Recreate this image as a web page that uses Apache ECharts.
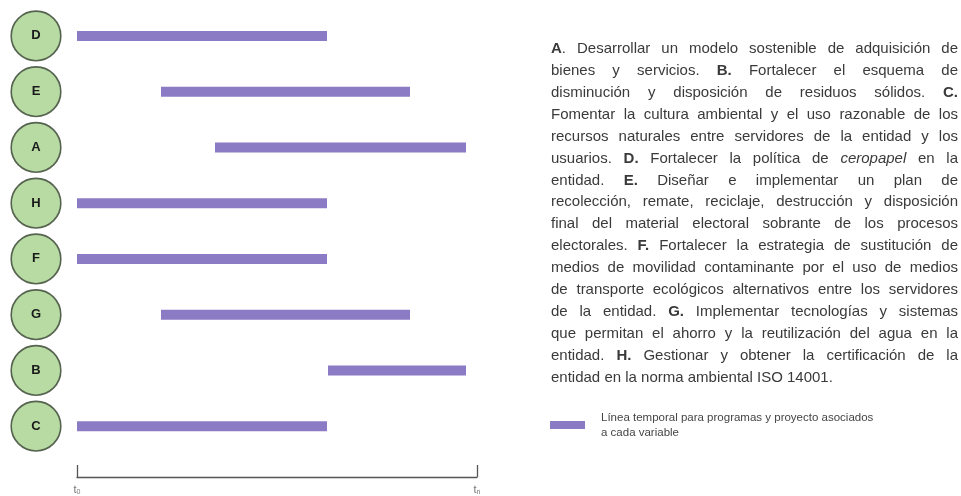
<!DOCTYPE html>
<html><head><meta charset="utf-8">
<script src="https://cdn.jsdelivr.net/npm/echarts@6/dist/echarts.min.js"></script>
<style>html,body{margin:0;padding:0;background:#fff}#c{width:961px;height:496px}</style>
</head><body><div id="c"></div>
<script>
// ---- data ----
const categories = ['D', 'E', 'A', 'H', 'F', 'G', 'B', 'C'];
const startValues = [0, 21, 34.5, 0, 0, 21, 62.75, 0];
const endValues = [62.5, 83.25, 97.25, 62.5, 62.5, 83.25, 97.25, 62.5];
const timeTickSubscripts = ['0', 'n'];
const legendLabel = 'Línea temporal para programas y proyecto asociados\na cada variable';
const descriptionLines = [
  '**A**. Desarrollar un modelo sostenible de adquisición de',
  'bienes y servicios. **B.** Fortalecer el esquema de',
  'disminución y disposición de residuos sólidos. **C.**',
  'Fomentar la cultura ambiental y el uso razonable de los',
  'recursos naturales entre servidores de la entidad y los',
  'usuarios. **D.** Fortalecer la política de _ceropapel_ en la',
  'entidad. **E.** Diseñar e implementar un plan de',
  'recolección, remate, reciclaje, destrucción y disposición',
  'final del material electoral sobrante de los procesos',
  'electorales. **F.** Fortalecer la estrategia de sustitución de',
  'medios de movilidad contaminante por el uso de medios',
  'de transporte ecológicos alternativos entre los servidores',
  'de la entidad. **G.** Implementar tecnologías y sistemas',
  'que permitan el ahorro y la reutilización del agua en la',
  'entidad. **H.** Gestionar y obtener la certificación de la',
  'entidad en la norma ambiental ISO 14001.'
];

// ---- styles ----
const FONT = '"Liberation Sans", Arial, sans-serif';
const BAR_COLOR = '#8b7bc4';
const TEXT_COLOR = '#3a3a3a';

const durations = endValues.map((e, i) => e - startValues[i]);

// justified paragraph layout
const TX0 = 551, TX1 = 958, TY0 = 49, LH = 21.9;
const cvs = document.createElement('canvas').getContext('2d');
let FS = 10;
function segFont(s, fs) { return (s.italic ? 'italic ' : '') + (s.bold ? 'bold ' : '') + fs + 'px ' + FONT; }
function measure(s, fs) { cvs.font = segFont(s, fs); return cvs.measureText(s.t).width; }
function parseWord(w) {
  const segs = []; const re = /\*\*(.+?)\*\*|_(.+?)_|([^*_]+)/g; let m;
  while ((m = re.exec(w))) {
    if (m[1]) segs.push({ t: m[1], bold: true });
    else if (m[2]) segs.push({ t: m[2], italic: true });
    else segs.push({ t: m[3] });
  }
  return segs;
}
const parsed = descriptionLines.map(l => l.split(' ').map(parseWord));
// choose font size so the densest line fits with normal spacing
(function () {
  let maxW = 0;
  parsed.forEach(words => {
    cvs.font = '10px ' + FONT;
    const sp = cvs.measureText(' ').width;
    const w = words.reduce((a, ws) => a + ws.reduce((b, s) => b + measure(s, 10), 0), 0) + sp * (words.length - 1);
    maxW = Math.max(maxW, w);
  });
  FS = Math.min(15, 10 * (TX1 - TX0) / maxW * 0.995);
})();
const graphics = [];
parsed.forEach((words, li) => {
  const widths = words.map(ws => ws.reduce((a, s) => a + measure(s, FS), 0));
  const total = widths.reduce((a, b) => a + b, 0);
  const last = li === parsed.length - 1;
  cvs.font = FS + 'px ' + FONT;
  const spaceW = cvs.measureText(' ').width;
  const gap = last ? spaceW : (TX1 - TX0 - total) / (words.length - 1);
  let x = TX0;
  const y = TY0 + li * LH;
  words.forEach((ws, wi) => {
    let sx = x;
    ws.forEach(s => {
      graphics.push({
        type: 'text', x: sx, y: y, silent: true,
        style: {
          text: s.t, fill: TEXT_COLOR, fontSize: FS, fontFamily: FONT,
          fontWeight: s.bold ? 'bold' : 'normal', fontStyle: s.italic ? 'italic' : 'normal',
          align: 'left', verticalAlign: 'middle'
        }
      });
      sx += measure(s, FS);
    });
    x += widths[wi] + gap;
  });
});

const chart = echarts.init(document.getElementById('c'), null, { renderer: 'canvas' });
chart.setOption({
  animation: false,
  backgroundColor: '#ffffff',
  grid: { left: 77, right: 484, top: 8, bottom: 42 },
  legend: {
    left: 545, top: 405,
    itemWidth: 35, itemHeight: 8,
    data: [{ name: legendLabel, icon: 'rect' }],
    selectedMode: false,
    textStyle: { fontSize: 11.5, color: '#444', fontFamily: FONT, lineHeight: 15, padding: [0, 0, 0, 11] }
  },
  xAxis: {
    type: 'value', min: 0, max: 100, interval: 100,
    offset: 23,
    axisLine: { show: true, lineStyle: { color: '#555', width: 1.3 } },
    axisTick: { show: true, inside: true, length: 12, lineStyle: { color: '#555', width: 1.3 } },
    splitLine: { show: false },
    axisLabel: {
      show: true, margin: 6, showMinLabel: true, showMaxLabel: true,
      formatter: v => '{t|t}{s|' + (v === 0 ? timeTickSubscripts[0] : timeTickSubscripts[1]) + '}',
      rich: {
        t: { fontSize: 11, color: '#777', fontFamily: FONT },
        s: { fontSize: 7, color: '#777', fontFamily: FONT, padding: [6, 0, 0, 0] }
      }
    }
  },
  yAxis: {
    type: 'category', inverse: true, data: categories,
    axisLine: { show: false }, axisTick: { show: false }, splitLine: { show: false },
    axisLabel: {
      margin: 17,
      formatter: v => '{c|' + v + '}',
      rich: {
        c: {
          width: 48, height: 48, lineHeight: 48, align: 'center',
          backgroundColor: '#b7dba3', borderColor: '#56634f', borderWidth: 1.6, borderRadius: 25,
          fontSize: 13, fontWeight: 'bold', color: '#1a1a1a', fontFamily: FONT
        }
      }
    }
  },
  series: [
    {
      name: 'base', type: 'bar', stack: 'g', data: startValues, barWidth: 10,
      itemStyle: { color: 'transparent' }, silent: true
    },
    {
      name: legendLabel, type: 'bar', stack: 'g', data: durations, barWidth: 10,
      itemStyle: { color: BAR_COLOR }
    }
  ],
  graphic: graphics
});
</script></body></html>
